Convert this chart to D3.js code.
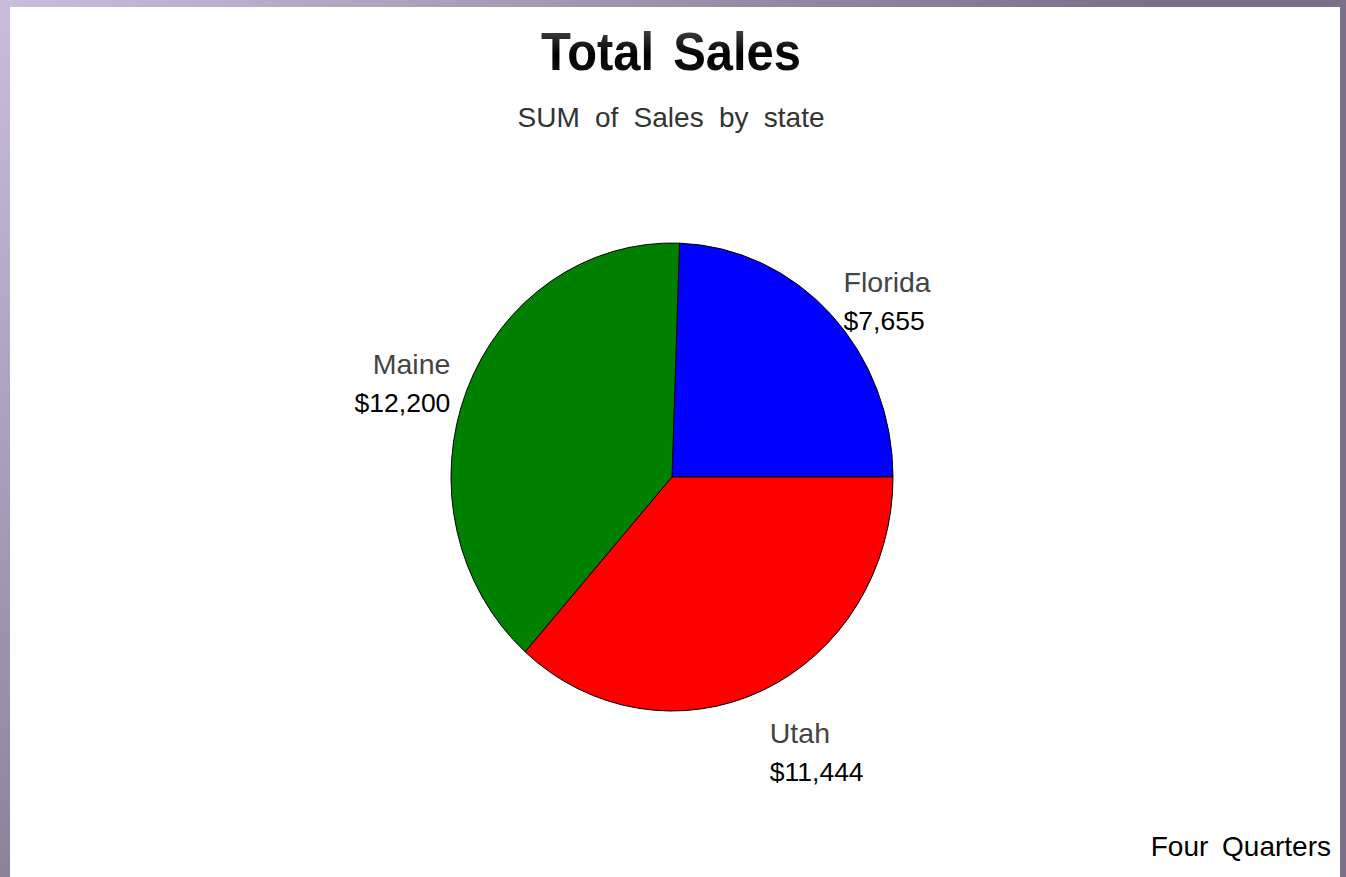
<!DOCTYPE html>
<html>
<head>
<meta charset="utf-8">
<script src="https://cdn.jsdelivr.net/npm/d3@7"></script>
<style>
  html, body { margin: 0; padding: 0; background: #fff; }
  svg { display: block; }
  text { font-family: "Liberation Sans", Arial, sans-serif; }
</style>
</head>
<body>
<svg id="chart" width="1346" height="877"></svg>
<script>
// Sales totals per state, summed over four quarters
const states = ["Florida", "Maine", "Utah"];
const sales = [7655, 12200, 11444];
const sliceColors = ["#0000ff", "#008000", "#ff0000"];

const titleText = "Total Sales";
const subtitleText = "SUM of Sales by state";
const footnoteText = "Four Quarters";

const W = 1346, H = 877;
const svg = d3.select("#chart");
const defs = svg.append("defs");

// Backdrop: lavender fading to a dusky purple
const bg = defs.append("radialGradient")
  .attr("id", "bgGrad").attr("gradientUnits", "userSpaceOnUse")
  .attr("cx", 0).attr("cy", 0).attr("r", 1150);
bg.append("stop").attr("offset", "0%").attr("stop-color", "#cbbcde");
bg.append("stop").attr("offset", "100%").attr("stop-color", "#7a7088");

const tg = defs.append("linearGradient")
  .attr("id", "titleGrad").attr("x1", 0).attr("y1", 0).attr("x2", 0).attr("y2", 1);
tg.append("stop").attr("offset", "0%").attr("stop-color", "#555");
tg.append("stop").attr("offset", "55%").attr("stop-color", "#000");
tg.append("stop").attr("offset", "100%").attr("stop-color", "#1a1a1a");

svg.append("rect").attr("width", W).attr("height", H).attr("fill", "url(#bgGrad)");
svg.append("rect").attr("x", 10).attr("y", 7).attr("width", 1330).attr("height", H - 7)
  .attr("fill", "#fff");

// Titles
svg.append("text").attr("x", 671).attr("y", 70).attr("text-anchor", "middle")
  .attr("font-size", 53).attr("font-weight", "bold").attr("fill", "url(#titleGrad)")
  .attr("word-spacing", 6)
  .attr("textLength", 260).attr("lengthAdjust", "spacingAndGlyphs")
  .text(titleText);
svg.append("text").attr("x", 671).attr("y", 127).attr("text-anchor", "middle")
  .attr("font-size", 28).attr("fill", "#333")
  .attr("word-spacing", 7.5)
  .text(subtitleText);
svg.append("text").attr("x", 1331).attr("y", 856).attr("text-anchor", "end")
  .attr("font-size", 28).attr("fill", "#000")
  .attr("word-spacing", 6)
  .text(footnoteText);

// Pie: starts at 3 o'clock and runs counter-clockwise, slightly taller than wide
const cx = 672, cy = 477, rx = 221, ry = 234;
const rows = states.map((s, i) => ({ state: s, value: sales[i], color: sliceColors[i] }));

const pie = d3.pie().value(d => d.value).sort(null)
  .startAngle(Math.PI / 2).endAngle(Math.PI / 2 - 2 * Math.PI);
const arcs = pie(rows);
const arc = d3.arc().innerRadius(0).outerRadius(rx);

const g = svg.append("g")
  .attr("transform", `translate(${cx},${cy}) scale(1,${ry / rx})`);
g.selectAll("path").data(arcs).join("path")
  .attr("d", arc)
  .attr("fill", d => d.data.color)
  .attr("stroke", "#000").attr("stroke-width", 1)
  .attr("vector-effect", "non-scaling-stroke")
  .attr("stroke-linejoin", "round");

// Labels sit just outside each slice's middle angle
const fmt = d3.format("$,");
const lineGap = 38;
arcs.forEach(d => {
  const mid = (d.startAngle + d.endAngle) / 2;   // clockwise from 12 o'clock
  const sx = Math.sin(mid), sy = -Math.cos(mid);  // screen direction
  const f = 1.08;
  const px = cx + rx * f * sx;
  let py = cy + ry * f * sy;
  const anchor = sx >= 0 ? "start" : "end";
  // block of two lines, vertically centred unless the slice points straight up/down
  let blockTop = py - lineGap / 2 - 14;
  if (Math.abs(sy) > 0.85) blockTop = sy > 0 ? py + 11 : py - 2 * lineGap - 11;
  const t = svg.append("text").attr("text-anchor", anchor);
  t.append("tspan").attr("x", px).attr("y", blockTop + 24).attr("fill", "#444")
    .attr("font-size", 28.5)
    .text(d.data.state);
  t.append("tspan").attr("x", px).attr("y", blockTop + 24 + lineGap).attr("fill", "#000")
    .attr("font-size", 26.5)
    .text(fmt(d.data.value));
});
</script>
</body>
</html>
